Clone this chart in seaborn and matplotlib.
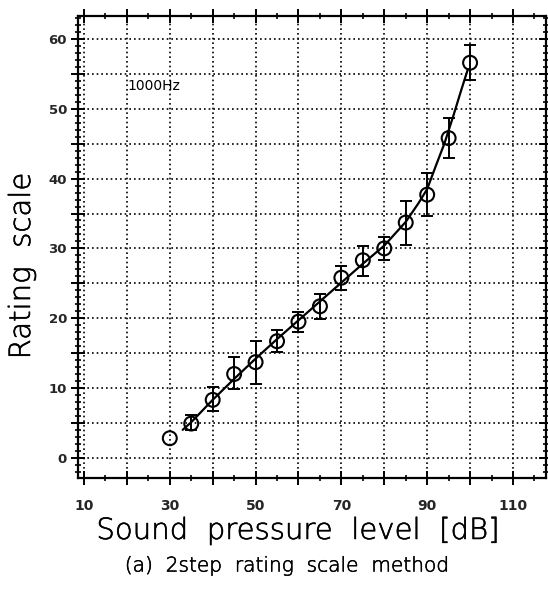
import numpy as np
import pandas as pd
import matplotlib
matplotlib.use("Agg")
import matplotlib.pyplot as plt
import matplotlib.patheffects as pe
import seaborn as sns
from matplotlib.ticker import MultipleLocator, FuncFormatter

# Mean ratings per sound pressure level with their spread
level_db = [30, 35, 40, 45, 50, 55, 60, 65, 70, 75, 80, 85, 90, 95, 100]
rating_mean = [2.8, 4.9, 8.3, 12.0, 13.7, 16.7, 19.5, 21.7, 25.8, 28.3, 30.0, 33.7, 37.7, 45.8, 56.6]
rating_low = [np.nan, 4.0, 6.7, 9.9, 10.6, 15.2, 18.0, 19.9, 24.0, 26.0, 28.3, 30.5, 34.7, 43.0, 54.2]
rating_high = [np.nan, 6.1, 10.1, 14.4, 16.8, 18.3, 20.9, 23.5, 27.5, 30.4, 31.7, 36.8, 40.8, 48.7, 59.2]

# Fitted response curve
fit_db = [33, 35, 40, 45, 50, 55, 60, 65, 70, 75, 80, 85, 88, 90, 92, 94, 96, 98, 99.5]
fit_rating = [4.0, 5.1, 8.3, 11.3, 14.2, 17.0, 19.7, 22.4, 25.1, 27.8, 30.4, 33.8, 36.5, 38.5, 41.8, 45.0, 48.8, 52.8, 55.7]

x_tick_labels = [10, 30, 50, 70, 90, 110]
y_tick_labels = [0, 10, 20, 30, 40, 50, 60]

sns.set_style("white")
plt.rcParams["font.family"] = ["DejaVu Sans"]

df = pd.DataFrame({"level": level_db, "mean": rating_mean,
                   "low": rating_low, "high": rating_high})
fit = pd.DataFrame({"level": fit_db, "rating": fit_rating})

fig = plt.figure(figsize=(5.48, 5.94), dpi=100)
ax = fig.add_axes([78 / 548, 1 - 478 / 594, (546 - 78) / 548, (478 - 16) / 594])

ax.set_xlim(8.6, 117.7)
ax.set_ylim(-2.9, 63.3)

# dotted grid
ax.xaxis.set_major_locator(MultipleLocator(10))
ax.xaxis.set_minor_locator(MultipleLocator(5))
ax.yaxis.set_major_locator(MultipleLocator(5))
ax.yaxis.set_minor_locator(MultipleLocator(1))
ax.grid(True, which="major", color="black", linestyle=(0, (1, 1.8)), linewidth=1.2)
ax.set_axisbelow(True)

ax.xaxis.set_major_formatter(FuncFormatter(lambda v, p: f"{int(round(v))}" if int(round(v)) in x_tick_labels else ""))
ax.yaxis.set_major_formatter(FuncFormatter(lambda v, p: f"{int(round(v))}" if int(round(v)) in y_tick_labels else ""))

ax.tick_params(which="major", direction="inout", length=10, width=1.4, color="black",
               top=True, right=True, bottom=True, left=True)
ax.tick_params(which="minor", direction="inout", length=5, width=1.2, color="black",
               top=True, right=True, bottom=True, left=True)
ax.tick_params(axis="x", which="major", pad=10, labelsize=10)
ax.tick_params(axis="y", which="major", pad=3, labelsize=9.5)
for lab in ax.get_xticklabels() + ax.get_yticklabels():
    lab.set_fontweight("bold")

for s in ax.spines.values():
    s.set_color("black")
    s.set_linewidth(1.6)

# fitted curve
sns.lineplot(data=fit, x="level", y="rating", ax=ax, color="black",
             linewidth=1.6, sort=False, estimator=None, zorder=3)

# error bars
eb = df.dropna()
ax.errorbar(eb["level"], eb["mean"],
            yerr=[eb["mean"] - eb["low"], eb["high"] - eb["mean"]],
            fmt="none", ecolor="black", elinewidth=1.4, capsize=4.5,
            capthick=1.4, zorder=4)

# mean ratings
sns.scatterplot(data=df, x="level", y="mean", ax=ax, marker="o", s=100,
                facecolor="none", edgecolor="black", linewidth=1.5, zorder=5)

ax.set_xlabel("")
ax.set_ylabel("")

ax.text(20.2, 53.3, "1000Hz", fontsize=10, color="black", ha="left", va="center")

# thin geometric lettering, slightly thickened with a black outline
label_font = dict(family=["DejaVu Sans"], weight="light", color="black",
                  path_effects=[pe.withStroke(linewidth=0.4, foreground="black")])
fig.text(22 / 548, 1 - 266 / 594, "Rating  scale", rotation=90, fontsize=21,
         ha="center", va="center", **label_font)
fig.text(298 / 548, 1 - 531 / 594, "Sound  pressure  level  [dB]", fontsize=21,
         ha="center", va="center", **label_font)
fig.text(287 / 548, 1 - 566 / 594, "(a)  2step  rating  scale  method", fontsize=14.5,
         ha="center", va="center", **label_font)

fig.savefig("out.png", dpi=100, facecolor="white")
